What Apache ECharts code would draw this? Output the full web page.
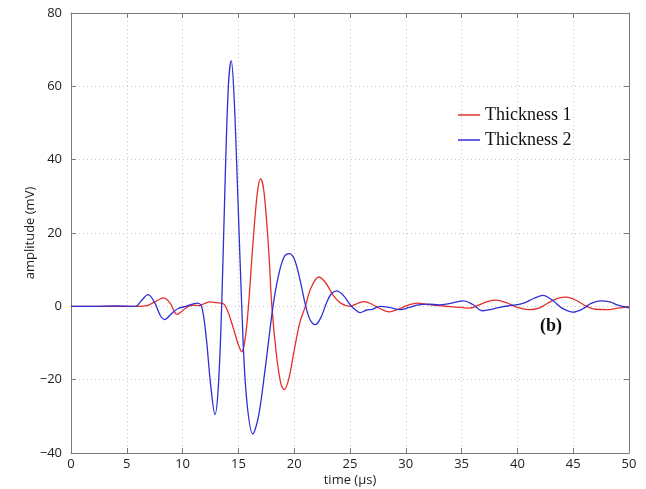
<!DOCTYPE html>
<html>
<head>
<meta charset="utf-8">
<script src="https://cdn.jsdelivr.net/npm/echarts@6/dist/echarts.min.js"></script>
<style>
  html, body { margin: 0; padding: 0; background: #fff; }
  #chart { width: 646px; height: 489px; }
</style>
</head>
<body>
<div id="chart"></div>
<script>
// Received ultrasonic signals for two plate thicknesses
const seriesNames = ['Thickness 1', 'Thickness 2'];

const time1 = [0, 2, 4, 6, 6.8, 7.5, 8.3, 8.9, 9.5, 10.0, 10.5, 11.0, 11.5, 12.0, 12.5, 13.0, 13.6, 14.0, 14.5, 15.0, 15.3, 15.6, 15.9, 16.3, 16.7, 17.0, 17.3, 17.7, 18.0, 18.4, 18.8, 19.1, 19.5, 20.0, 20.5, 21.0, 21.5, 22.2, 22.8, 23.5, 24.2, 25.0, 25.6, 26.3, 27.0, 27.8, 28.5, 29.3, 30.2, 31.0, 32.0, 33.0, 34.0, 35.0, 35.7, 36.5, 37.3, 38.1, 39.0, 40.0, 41.1, 42.0, 42.8, 43.6, 44.4, 45.3, 46.2, 47.0, 48.0, 49.0, 50.0];
const amp1 = [0, 0, 0, 0, 0.2, 1.2, 2.3, 0.8, -2.2, -1.2, 0, 0.3, 0.2, 0.8, 1.2, 1.0, 0.8, -1, -5.5, -10.5, -12.4, -9, 0, 17, 31, 34.8, 31, 16, 0, -13, -21, -22.7, -20, -12, -4.5, 0, 5, 8, 6.5, 3, 0.8, 0, 0.7, 1.3, 0.5, -0.8, -1.5, -0.8, 0.3, 0.9, 0.5, 0.2, -0.1, -0.3, -0.5, 0.3, 1.3, 1.7, 1, -0.3, -0.9, -0.4, 1, 2.2, 2.5, 1.6, 0, -0.8, -0.9, -0.5, -0.1];

const time2 = [0, 2, 4, 5.8, 6.3, 6.9, 7.5, 8.0, 8.4, 9.0, 9.6, 10.3, 11.3, 11.7, 12.1, 12.5, 12.9, 13.2, 13.5, 13.8, 14.1, 14.35, 14.6, 14.95, 15.3, 15.7, 16.3, 16.8, 17.4, 18.1, 18.6, 19.1, 19.55, 20.0, 20.5, 21.0, 21.4, 21.9, 22.4, 22.9, 23.3, 23.8, 24.4, 25.0, 25.5, 25.9, 26.5, 27.0, 27.7, 28.5, 29.5, 30.3, 31.0, 32.0, 33.0, 34.0, 35.2, 36.0, 36.9, 37.7, 38.5, 39.6, 40.5, 41.5, 42.3, 43.2, 44.0, 45.0, 45.8, 46.6, 47.4, 48.3, 49.0, 50.0];
const amp2 = [0, 0, 0.1, 0, 1.5, 3.2, 1, -2.5, -3.6, -2, -0.6, 0, 0.9, 0, -8, -21, -29.5, -22, 0, 33, 60, 67, 58, 30, 0, -24, -34.8, -30, -17, 0, 8.5, 13.5, 14.4, 13, 7.5, 0.5, -3.5, -5, -3, 1, 3.3, 4.2, 3, 0.5, -1, -1.7, -1, -0.8, 0, -0.3, -0.9, -0.3, 0.3, 0.6, 0.4, 0.8, 1.5, 0.5, -1.2, -0.8, -0.2, 0.3, 0.8, 2.2, 3, 1.5, -0.5, -1.6, -0.8, 0.8, 1.5, 1.2, 0.3, -0.4];

const xTicks = { min: 0, max: 50, interval: 5 };
const yTicks = { min: -40, max: 80, interval: 20 };

const zip = (xs, ys) => xs.map((x, i) => [x, ys[i]]);
const minus = v => String(v).replace('-', '\u2212');

const frameColor = '#7a7a7a';
const labelFont = { fontFamily: 'Open Sans', fontSize: 13, color: '#222' };
const gridDots = { show: true, lineStyle: { color: '#c8c8c8', type: [1, 3], width: 1 } };

const baseX = {
  type: 'value', min: xTicks.min, max: xTicks.max, interval: xTicks.interval,
  axisLine: { show: true, onZero: false, lineStyle: { color: frameColor, width: 1 } },
  axisTick: { show: true, inside: true, length: 5, lineStyle: { color: frameColor } },
  splitLine: { show: false }
};
const baseY = {
  type: 'value', min: yTicks.min, max: yTicks.max, interval: yTicks.interval,
  axisLine: { show: true, onZero: false, lineStyle: { color: frameColor, width: 1 } },
  axisTick: { show: true, inside: true, length: 5, lineStyle: { color: frameColor } },
  splitLine: { show: false }
};

const chart = echarts.init(document.getElementById('chart'), null, { renderer: 'canvas' });
chart.setOption({
  animation: false,
  backgroundColor: '#fff',
  grid: { left: 71, right: 17, top: 13, bottom: 36, containLabel: false, outerBoundsMode: 'none' },
  legend: {
    data: seriesNames,
    orient: 'vertical',
    left: 453, top: 101,
    icon: 'rect', itemWidth: 22, itemHeight: 1.5, itemGap: 7,
    textStyle: { fontFamily: 'Liberation Serif', fontSize: 18, color: '#111' }
  },
  xAxis: [
    Object.assign({}, baseX, {
      position: 'bottom',
      name: 'time (\u03bcs)', nameLocation: 'middle', nameGap: 21,
      nameMoveOverlap: false,
      nameTextStyle: labelFont,
      axisLabel: Object.assign({ margin: 5 }, labelFont),
      splitLine: gridDots
    }),
    Object.assign({}, baseX, { position: 'top', axisLabel: { show: false } })
  ],
  yAxis: [
    Object.assign({}, baseY, {
      position: 'left',
      name: 'amplitude (mV)', nameLocation: 'middle', nameGap: 34, nameRotate: 90,
      nameMoveOverlap: false,
      nameTextStyle: labelFont,
      axisLabel: Object.assign({ margin: 9, formatter: minus }, labelFont),
      splitLine: gridDots
    }),
    Object.assign({}, baseY, { position: 'right', axisLabel: { show: false } })
  ],
  series: [
    {
      name: seriesNames[0], type: 'line', data: zip(time1, amp1),
      smooth: 0.35, showSymbol: false,
      lineStyle: { color: '#e2302c', width: 1.3 }, itemStyle: { color: '#e2302c' }, z: 3
    },
    {
      name: seriesNames[1], type: 'line', data: zip(time2, amp2),
      smooth: 0.35, showSymbol: false,
      lineStyle: { color: '#2f2fd6', width: 1.3 }, itemStyle: { color: '#2f2fd6' }, z: 4
    }
  ],
  graphic: [
    {
      type: 'text', left: 540, top: 317,
      style: { text: '(b)', fontFamily: 'Liberation Serif', fontSize: 18, fontWeight: 'bold', fill: '#111' }
    }
  ]
});
</script>
</body>
</html>
